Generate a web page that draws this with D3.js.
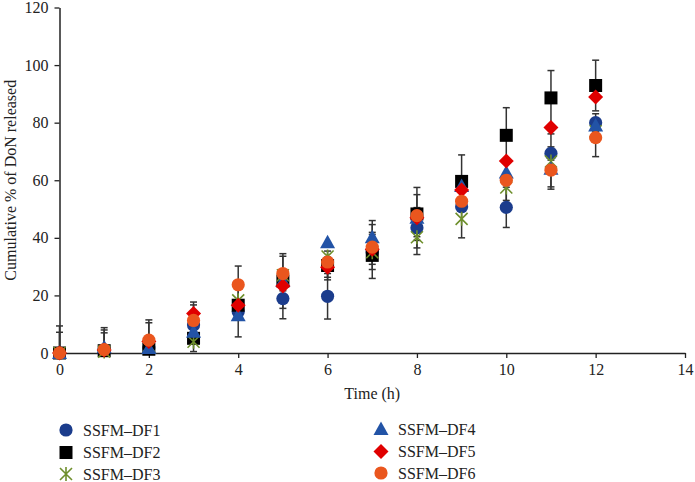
<!DOCTYPE html>
<html><head><meta charset="utf-8">
<script src="https://cdn.jsdelivr.net/npm/d3@7"></script>
<style>
body{margin:0;background:#fff}
svg{display:block}
text{font-family:"Liberation Serif","DejaVu Serif",serif;fill:#222}
</style>
</head><body>
<svg id="c" width="695" height="482"></svg>
<script>
// ---- data ----
const times = [0,1,2,3,4,5,6,7,8,9,10,11,12];
const seriesNames = ["SSFM\u2013DF1","SSFM\u2013DF2","SSFM\u2013DF3","SSFM\u2013DF4","SSFM\u2013DF5","SSFM\u2013DF6"];
const df1 = [0, 1.0, 1.7, 9.7, 14.3, 18.9, 19.7, 35.0, 43.5, 50.8, 50.6, 69.3, 80.0];
const df2 = [0, 0.8, 1.3, 5.1, 16.6, 25.0, 30.4, 33.9, 48.3, 59.6, 75.6, 88.6, 92.9];
const df3 = [0, 0.5, 2.5, 3.9, 18.3, 27.0, 33.5, 35.0, 40.2, 46.6, 57.5, 66.5, 77.0];
const df4 = [0, 2.0, 1.7, 7.4, 13.1, 25.0, 38.5, 40.2, 47.0, 58.0, 62.7, 64.0, 79.0];
const df5 = [0, 1.0, 4.0, 13.7, 16.6, 23.3, 29.8, 36.0, 47.0, 56.6, 66.7, 78.3, 88.9];
const df6 = [0, 1.2, 4.5, 11.3, 23.7, 27.6, 31.6, 36.8, 47.7, 52.7, 60.0, 63.5, 74.8];
const err1 = [7.2, 7, 0, 0, 8.7, 7, 7.9, 0, 7, 0, 7, 2.3, 3.1];
const err2 = [9.4, 8, 0, 4.6, 0, 9.5, 5, 8, 9.2, 9.2, 9.6, 9.5, 8.8];
const err3 = [0, 0, 0, 0, 0, 0, 0, 0, 6, 6.6, 0, 9.6, 0];
const err4 = [0, 0, 0, 0, 0, 0, 0, 5.8, 0, 0, 0, 0, 0];
const err5 = [0, 6, 6.5, 4, 0, 0, 3.5, 5.2, 0, 0, 0, 0, 0];
const err6 = [0, 0, 7, 5.4, 6.5, 6, 0, 7.8, 7.3, 0, 7, 5.8, 6.6];
const xTicks = [0,2,4,6,8,10,12,14];
const yTicks = [0,20,40,60,80,100,120];
const xTitle = "Time (h)";
const yTitle = "Cumulative % of DoN released";

// ---- styling ----
const colors = ["#1b3c8c","#000000","#6e8f2c","#2253a6","#e00000","#ea561e"];
const shapes = ["circle","square","star","triangle","diamond","circle"];
const values = [df1,df2,df3,df4,df5,df6];
const errors = [err1,err2,err3,err4,err5,err6];

const svg = d3.select("#c");
const x = d3.scaleLinear().domain([0,14]).range([59.5,685]);
const y = d3.scaleLinear().domain([0,120]).range([353,7.5]);

function markerPath(shape){
  if(shape==="circle") return d3.symbol().type(d3.symbolCircle).size(Math.PI*6.6*6.6)();
  if(shape==="square") return "M-6.5,-6.5H6.5V6.5H-6.5Z";
  if(shape==="diamond") return "M0,-7.5L7.5,0L0,7.5L-7.5,0Z";
  if(shape==="triangle") return "M0,-7.5L7.5,6L-7.5,6Z";
  if(shape==="star") return "M-6,-6L6,6M-6,6L6,-6M0,-7L0,7";
}
function drawMarker(g, shape, color){
  const p = g.append("path").attr("d", markerPath(shape));
  if(shape==="star") p.attr("fill","none").attr("stroke",color).attr("stroke-width",1.6);
  else p.attr("fill",color);
}

// axes
const yAxis = d3.axisLeft(y).tickValues(yTicks).tickSize(5).tickSizeOuter(0).tickPadding(6);
const xAxis = d3.axisBottom(x).tickValues(xTicks).tickSize(5).tickSizeOuter(0).tickPadding(6);
const gy = svg.append("g").attr("transform",`translate(${x(0)},0)`).call(yAxis);
const gx = svg.append("g").attr("transform",`translate(0,${y(0)})`).call(xAxis);
[gx,gy].forEach(g=>{
  g.select(".domain").attr("stroke","#222").attr("stroke-width",1.5);
  g.selectAll(".tick line").attr("stroke","#222").attr("stroke-width",1.3);
  g.selectAll(".tick text").attr("font-size",16).attr("fill","#222")
   .style("font-family",'"Liberation Serif","DejaVu Serif",serif');
});

// titles
svg.append("text").attr("x",(x(0)+x(14))/2).attr("y",399).attr("text-anchor","middle")
  .attr("font-size",16).text(xTitle);
svg.append("text").attr("transform",`translate(16,${(y(0)+y(120))/2}) rotate(-90)`)
  .attr("text-anchor","middle").attr("font-size",16).text(yTitle);

// error bars
const eb = svg.append("g");
values.forEach((vals,si)=>{
  vals.forEach((v,i)=>{
    const e = errors[si][i];
    if(!e) return;
    const lo = Math.max(0, v-e), hi = v+e;
    const cx = x(times[i]);
    eb.append("line").attr("x1",cx).attr("x2",cx).attr("y1",y(lo)).attr("y2",y(hi))
      .attr("stroke","#333").attr("stroke-width",1.5);
    [lo,hi].forEach(val=>{
      if(val<=0) return;
      eb.append("line").attr("x1",cx-3.5).attr("x2",cx+3.5).attr("y1",y(val)).attr("y2",y(val))
        .attr("stroke","#333").attr("stroke-width",1.5);
    });
  });
});

// markers
values.forEach((vals,si)=>{
  vals.forEach((v,i)=>{
    const g = svg.append("g").attr("transform",`translate(${x(times[i])},${y(v)})`);
    drawMarker(g, shapes[si], colors[si]);
  });
});

// legend
const legendPos = [[66,430],[66,452.5],[66,474],[381,429],[381,451.5],[381,473]];
seriesNames.forEach((name,si)=>{
  const [lx,ly] = legendPos[si];
  const g = svg.append("g").attr("transform",`translate(${lx},${ly})`);
  drawMarker(g, shapes[si], colors[si]);
  svg.append("text").attr("x",lx+17).attr("y",ly).attr("dy","0.35em")
    .attr("font-size",16).text(name);
});
</script>
</body></html>
